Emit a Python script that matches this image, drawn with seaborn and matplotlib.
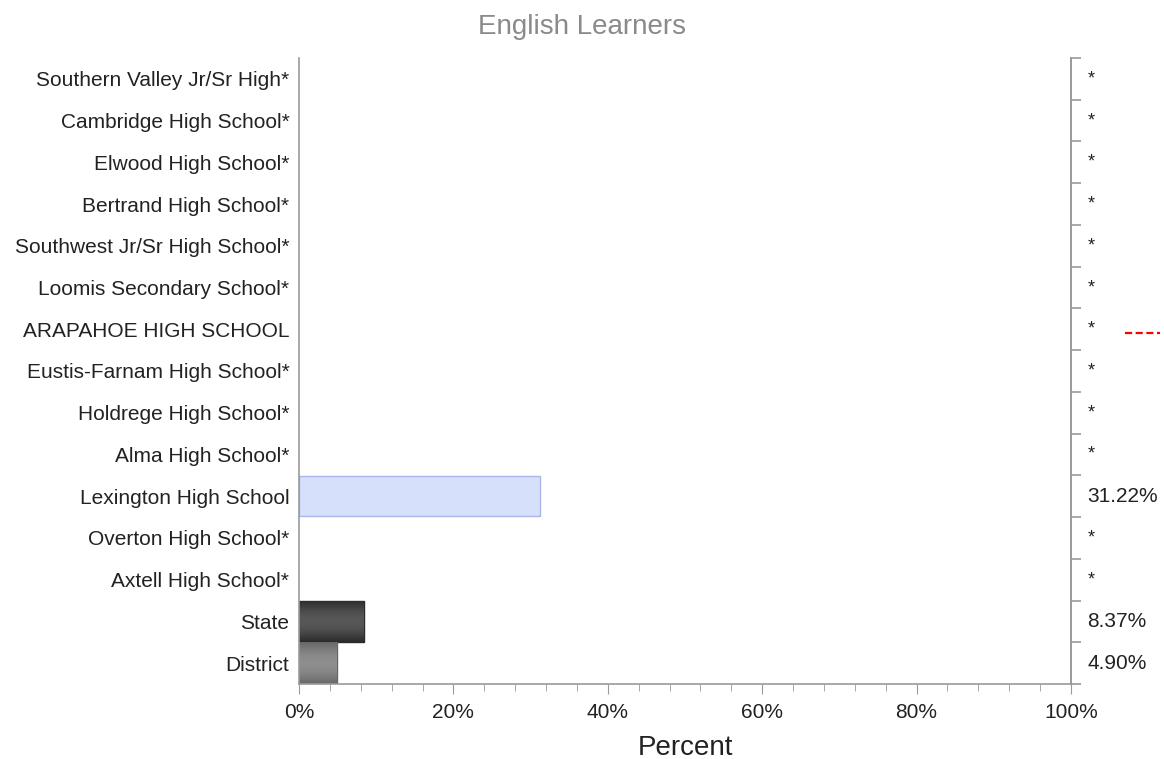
import matplotlib
matplotlib.use("Agg")
import matplotlib.pyplot as plt
import matplotlib.transforms as mtransforms
from matplotlib.colors import LinearSegmentedColormap
from matplotlib.ticker import MultipleLocator, FuncFormatter
import seaborn as sns
import pandas as pd
import numpy as np

schools = [
    "Southern Valley Jr/Sr High*", "Cambridge High School*", "Elwood High School*",
    "Bertrand High School*", "Southwest Jr/Sr High School*", "Loomis Secondary School*",
    "ARAPAHOE HIGH SCHOOL", "Eustis-Farnam High School*", "Holdrege High School*",
    "Alma High School*", "Lexington High School", "Overton High School*",
    "Axtell High School*", "State", "District",
]
percent = [np.nan] * 10 + [31.22, np.nan, np.nan, 8.37, 4.90]
value_labels = ["*"] * 10 + ["31.22%", "*", "*", "8.37%", "4.90%"]
highlight = "ARAPAHOE HIGH SCHOOL"

sns.set_style("white")
plt.rcParams["font.family"] = ["Liberation Sans", "DejaVu Sans"]

df = pd.DataFrame({"school": schools, "percent": percent})
colors = {s: "#d6e0fb" for s in schools}
colors["State"] = "#3d3d3d"
colors["District"] = "#7a7a7a"
edges = {s: "#a9b6e6" for s in schools}
edges["State"] = "#2a2a2a"
edges["District"] = "#666666"
# (edge-of-bar colour, middle colour) for the shaded bars
shades = {"State": ("#2b2b2b", "#575757"), "District": ("#686868", "#8e8e8e")}

fig = plt.figure(figsize=(11.64, 7.59), dpi=100)
ax = fig.add_axes([0.2569, 0.0988, 0.6632, 0.8248])

sns.barplot(data=df, y="school", x="percent", hue="school", palette=colors,
            orient="h", width=1.0, legend=False, ax=ax, saturation=1)
drawn = [s for s, v in zip(schools, percent) if not np.isnan(v)]
for bar, s in zip(ax.patches, drawn):
    bar.set_edgecolor(edges[s])
    bar.set_linewidth(1.0)
    if s == "Lexington High School":
        bar.set_y(bar.get_y() + 0.02)
        bar.set_height(0.96)
    if s in shades:
        cmap = LinearSegmentedColormap.from_list(s, list(shades[s]))
        grad = np.sin(np.linspace(0, np.pi, 64))[:, None]
        x0, y0 = bar.get_x(), bar.get_y()
        im = ax.imshow(grad, cmap=cmap, aspect="auto", vmin=0, vmax=1,
                       extent=[x0, x0 + bar.get_width(), y0 + bar.get_height(), y0],
                       zorder=bar.get_zorder() + 0.1)
        im.set_clip_path(bar)

n = len(schools)
ax.set_xlim(0, 100)
ax.set_ylim(n - 0.5, -0.5)
ax.set_aspect("auto")

grey = "#9a9a9a"
for side in ["left", "bottom", "right"]:
    ax.spines[side].set_color(grey)
    ax.spines[side].set_linewidth(1.2)
ax.spines["top"].set_visible(False)

ax.xaxis.set_major_locator(MultipleLocator(20))
ax.xaxis.set_minor_locator(MultipleLocator(4))
ax.xaxis.set_major_formatter(FuncFormatter(lambda v, p: f"{v:.0f}%"))
ax.tick_params(axis="x", which="major", length=7, color=grey, labelsize=15,
               labelcolor="#222222", pad=7, bottom=True)
ax.tick_params(axis="x", which="minor", length=5, color=grey, bottom=True)
ax.tick_params(axis="y", length=0, labelsize=15, labelcolor="#222222", pad=7)
ax.set_ylabel("")
ax.set_xlabel("Percent", fontsize=20, color="#222222", labelpad=9)
fig.suptitle("English Learners", fontsize=20, color="#8a8a8a", x=0.5, y=0.965, va="center")

# right axis with boundary ticks
ax2 = ax.twinx()
ax2.set_ylim(ax.get_ylim())
ax2.set_yticks(np.arange(-0.5, n, 1.0))
ax2.set_yticklabels([])
ax2.tick_params(axis="y", length=7, color=grey, width=1.2)
for side in ["left", "top", "bottom"]:
    ax2.spines[side].set_visible(False)
ax2.spines["right"].set_color(grey)
ax2.spines["right"].set_linewidth(1.2)

trans = mtransforms.blended_transform_factory(ax.transAxes, ax.transData)
for i, lab in enumerate(value_labels):
    star = lab == "*"
    ax.text(1.021, i, lab, transform=trans, ha="left",
            va="center", fontsize=13 if star else 15, color="#222222")

hi = schools.index(highlight)
ax.plot([107, 111.5], [hi + 0.1, hi + 0.1], color="#ff0000", lw=1.6,
        linestyle=(0, (3.2, 1.6)), clip_on=False)

fig.savefig("out.png", dpi=100)
